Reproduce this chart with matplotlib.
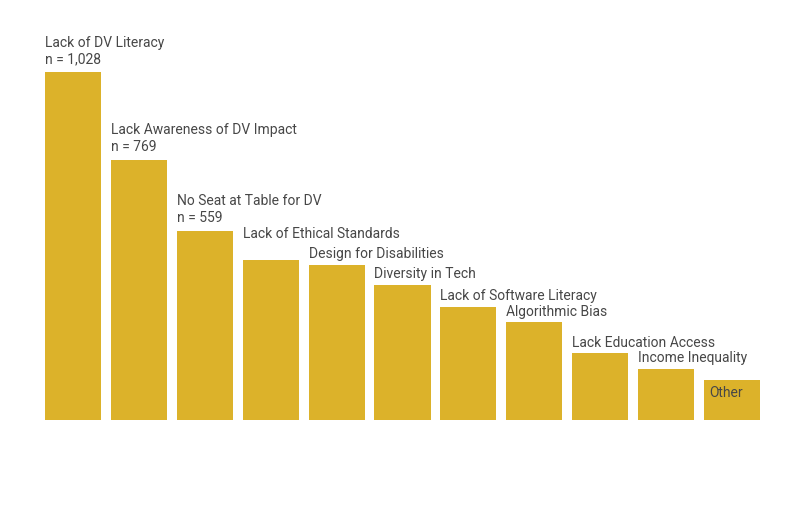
import matplotlib.pyplot as plt

categories = ['Lack of DV Literacy', 'Lack Awareness of DV Impact', 'No Seat at Table for DV',
              'Lack of Ethical Standards', 'Design for Disabilities', 'Diversity in Tech',
              'Lack of Software Literacy', 'Algorithmic Bias', 'Lack Education Access',
              'Income Inequality', 'Other']
counts = [1028, 769, 559, 473, 458, 400, 335, 289, 198, 152, 117]
show_n = [True, True, True, False, False, False, False, False, False, False, False]

plt.rcParams['font.family'] = ['Roboto', 'DejaVu Sans']

fig = plt.figure(figsize=(8.05, 5.23), dpi=100)
ax = fig.add_axes([45 / 805, 103 / 523, 715 / 805, 348 / 523])

w = 0.85
x = list(range(len(categories)))
ax.bar(x, counts, width=w, color='#dcb22a')
ax.set_xlim(-w / 2, len(categories) - 1 + w / 2)
ax.set_ylim(0, max(counts))
ax.axis('off')

txt_color = '#474747'
# labels that would collide with the next one get pushed up a bit
lift = {3: 11}
for i, (cat, n, s) in enumerate(zip(categories, counts, show_n)):
    if cat == 'Other':
        ax.annotate(cat, (i - w / 2, n), xytext=(4, -9), textcoords='offset points',
                    ha='left', va='center', fontsize=10, color=txt_color)
        continue
    label = f'{cat}\nn = {n:,}' if s else cat
    dy = 4 if s else 2.5
    ax.annotate(label, (i - w / 2, n), xytext=(0, dy + lift.get(i, 0)), textcoords='offset points',
                ha='left', va='bottom', fontsize=10, color=txt_color, linespacing=1.25,
                annotation_clip=False)

fig.savefig('out.png', dpi=100)
